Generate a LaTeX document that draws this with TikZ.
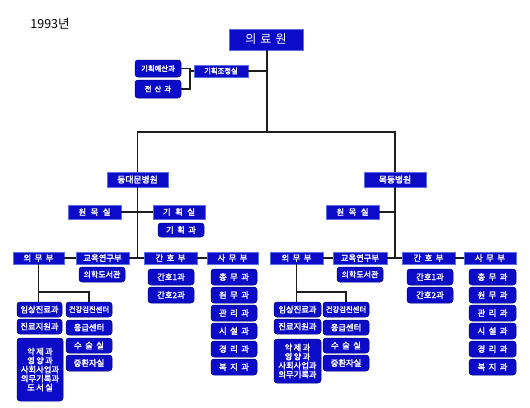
\documentclass[tikz,border=0pt]{standalone}
\usepackage{fontspec}
\setmainfont{Noto Sans CJK KR}
\newfontfamily\krfb{Noto Sans CJK KR}[FakeBold=2.2]
\definecolor{boxblue}{RGB}{12,12,200}
\definecolor{boxedge}{RGB}{90,110,230}
\definecolor{boxdark}{RGB}{0,0,120}
\definecolor{linec}{RGB}{30,30,30}
\newcommand{\gp}{\hspace{0.42em}}
\newcommand{\gw}{\hspace{0.55em}}
\tikzset{
  hb/.style={rectangle, fill=boxblue, draw=boxedge, line width=0.5pt, text=white,
    font=\krfb\fontsize{8.3}{9}\selectfont, inner sep=0pt, align=center},
  rb/.style={hb, rounded corners=3pt, draw=boxdark},
  sm/.style={font=\krfb\fontsize{7.3}{8}\selectfont},
  conn/.style={draw=linec, line width=1.3pt}
}
\newcommand{\bx}[7]{\node[#1, minimum width=#5pt, minimum height=#6pt] (#2) at (#3,#4) {#7};}
\begin{document}
\begin{tikzpicture}[x=1pt,y=-1pt]
\useasboundingbox (0,0) rectangle (530,407);
\fill[white] (0,0) rectangle (530,407);
\node[font=\rmfamily\fontsize{12.5}{14}\selectfont, inner sep=0pt] (title) at (50,23.5) {1993년};
% top
\bx{hb}{top}{266}{39.5}{74}{21}{\rmfamily\fontsize{12}{13}\selectfont 의\,\,료\,\,원}
\bx{hb,sm}{gj}{221}{71}{54}{12}{기획조정실}
\bx{rb,sm}{gy}{158}{68.5}{46}{17}{기획예산과}
\bx{rb,sm}{js}{158}{89}{46}{18}{전\gp 산\gp 과}
\coordinate (brk) at (190,71);
\coordinate (mainj) at (267,71);
\coordinate (hj) at (267,132);
\draw[conn] (gy.east) -- (190,68.5) -- (190,89) -- (js.east);
\draw[conn] (brk) -- (gj.west);
\draw[conn] (gj.east) -- (mainj);
\draw[conn] (top.south -| mainj) -- (hj);
% hospitals
\bx{hb}{dd}{137.5}{179.5}{61}{15}{\fontsize{8.8}{9}\selectfont 동대문병원}
\bx{hb}{md}{395}{179.5}{62}{15}{\fontsize{8.8}{9}\selectfont 목동병원}
\draw[conn] (dd.north) |- (hj) -| (md.north);
% ---------- left hospital ----------
\bx{hb}{Lwm}{94.5}{212}{53}{14}{원\gw 목\gw 실}
\bx{hb}{Lgh}{179}{212}{52}{14}{기\gw 획\gw 실}
\bx{rb}{Lghg}{181}{230}{46}{14}{기\gp 획\gp 과}
\bx{hb}{Lum}{38.5}{258}{51}{12}{의\gp 무\gp 부}
\bx{hb}{Led}{102.5}{258}{53}{12}{교육연구부}
\bx{hb}{Lgn}{170.5}{258}{53}{12}{간\gp 호\gp 부}
\bx{hb}{Lsm}{232.5}{258}{51}{12}{사\gp 무\gp 부}
\coordinate (Lj1) at (137.5,212);
\coordinate (Lj2) at (137.5,258);
\draw[conn] (dd.south) -- (Lj2);
\draw[conn] (Lwm.east) -- (Lj1) -- (Lgh.west);
\draw[conn] (Lum.east) -- (Led.west);
\draw[conn] (Led.east) -- (Lj2) -- (Lgn.west);
\draw[conn] (Lgn.east) -- (Lsm.west);
\bx{rb}{Llib}{102}{274.5}{46}{15}{\fontsize{8}{9}\selectfont 의학도서관}
\bx{rb}{Lg1}{171}{277}{46}{16}{간호1과}
\bx{rb}{Lg2}{171}{295}{46}{16}{간호2과}
\bx{rb}{Ls1}{234}{277}{46}{16}{총\gp 무\gp 과}
\bx{rb}{Ls2}{234}{295}{46}{16}{원\gp 무\gp 과}
\bx{rb}{Ls3}{234}{313}{46}{16}{관\gp 리\gp 과}
\bx{rb}{Ls4}{234}{331}{46}{16}{시\gp 설\gp 과}
\bx{rb}{Ls5}{234}{349}{46}{16}{경\gp 리\gp 과}
\bx{rb}{Ls6}{234}{367}{46}{16}{복\gp 지\gp 과}
\bx{rb}{La1}{39.5}{309.5}{45}{15}{임상진료과}
\bx{rb}{La2}{39.5}{326.5}{45}{15}{진료지원과}
\bx{rb}{La3}{40}{369.5}{46}{63}{\fontsize{8.3}{10.8}\selectfont 약\,제\,과\\영\,양\,과\\사회사업과\\의무기록과\\도\,서\,실}
\bx{rb,sm}{Lb1}{89}{309.5}{46}{15}{건강검진센터}
\bx{rb}{Lb2}{89}{327.5}{46}{15}{응급센터}
\bx{rb}{Lb3}{89}{345.5}{46}{15}{수\gp 술\gp 실}
\bx{rb}{Lb4}{89}{363}{46}{16}{중환자실}
\coordinate (Lk) at (38.5,292);
\draw[conn] (Lum.south) -- (La1.north -| Lum.south);
\draw[conn] (Lk) -| (Lb1.north);
% ---------- right hospital ----------
\bx{hb}{Rwm}{352.5}{212}{53}{14}{원\gw 목\gw 실}
\bx{hb}{Rum}{296.5}{258}{53}{12}{의\gp 무\gp 부}
\bx{hb}{Red}{360}{258}{54}{12}{교육연구부}
\bx{hb}{Rgn}{428.5}{258}{53}{12}{간\gp 호\gp 부}
\bx{hb}{Rsm}{490}{258}{52}{12}{사\gp 무\gp 부}
\coordinate (Rj1) at (395,212);
\coordinate (Rj2) at (395,258);
\draw[conn] (md.south) -- (Rj2);
\draw[conn] (Rwm.east) -- (Rj1);
\draw[conn] (Rum.east) -- (Red.west);
\draw[conn] (Red.east) -- (Rj2) -- (Rgn.west);
\draw[conn] (Rgn.east) -- (Rsm.west);
\bx{rb}{Rlib}{360}{274.5}{46}{15}{\fontsize{8}{9}\selectfont 의학도서관}
\bx{rb}{Rg1}{430}{277}{46}{16}{간호1과}
\bx{rb}{Rg2}{430}{295}{46}{16}{간호2과}
\bx{rb}{Rs1}{492.5}{277}{47}{16}{총\gp 무\gp 과}
\bx{rb}{Rs2}{492.5}{295}{47}{16}{원\gp 무\gp 과}
\bx{rb}{Rs3}{492.5}{313}{47}{16}{관\gp 리\gp 과}
\bx{rb}{Rs4}{492.5}{331}{47}{16}{시\gp 설\gp 과}
\bx{rb}{Rs5}{492.5}{349}{47}{16}{경\gp 리\gp 과}
\bx{rb}{Rs6}{492.5}{367}{47}{16}{복\gp 지\gp 과}
\bx{rb}{Ra1}{297.5}{309.5}{47}{15}{임상진료과}
\bx{rb}{Ra2}{297.5}{326.5}{47}{15}{진료지원과}
\bx{rb}{Ra3}{297.5}{361}{47}{44}{\fontsize{8.3}{10.8}\selectfont 약\,제\,과\\영\,양\,과\\사회사업과\\의무기록과}
\bx{rb,sm}{Rb1}{346}{309.5}{46}{15}{건강검진센터}
\bx{rb}{Rb2}{346}{327.5}{46}{15}{응급센터}
\bx{rb}{Rb3}{346}{345.5}{46}{15}{수\gp 술\gp 실}
\bx{rb}{Rb4}{346}{363}{46}{16}{중환자실}
\coordinate (Rk) at (296.5,292);
\draw[conn] (Rum.south) -- (Ra1.north -| Rum.south);
\draw[conn] (Rk) -| (Rb1.north);
\end{tikzpicture}
\end{document}
